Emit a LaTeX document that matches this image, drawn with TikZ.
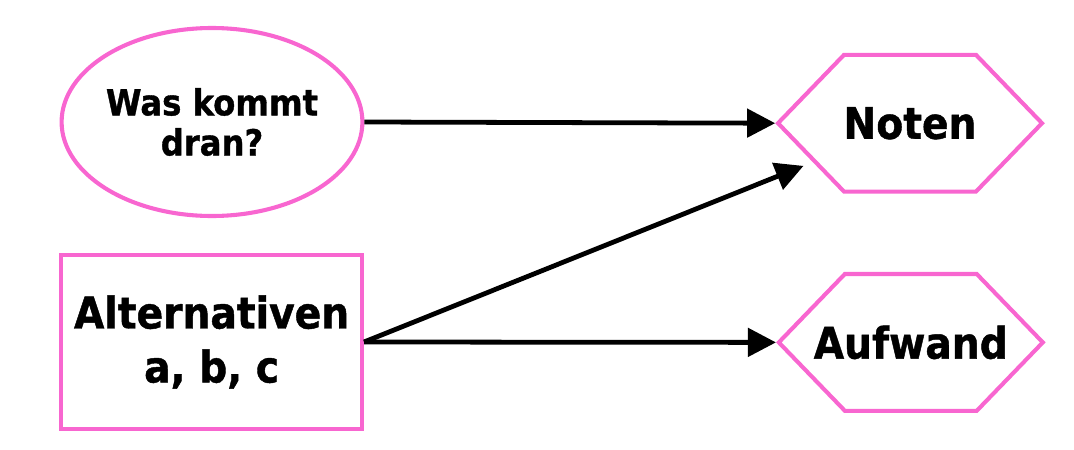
\documentclass[tikz,border=0pt]{standalone}
\usepackage{fontspec}
\setmainfont{DejaVu Sans}[FakeStretch=0.9, BoldFeatures={FakeBold=1}]
\usepackage{tikz}
\usetikzlibrary{arrows.meta, shapes.geometric, shapes.symbols}
\definecolor{pinkline}{RGB}{248,102,208}

\begin{document}
\begin{tikzpicture}[
        every node/.style={font=\bfseries, align=center},
        frame/.style={draw=pinkline, line width=2.9pt},
        goal/.style={frame, signal, signal to=east and west, signal pointer angle=92,
            minimum width=6.6cm, minimum height=3.42cm, inner sep=0pt, font=\bfseries\fontsize{31}{36}\selectfont},
        link/.style={-{Triangle[length=0.7cm, width=0.7cm]}, line width=3.4pt}
    ]
        \useasboundingbox (0, 0) rectangle (26.85, -11.225);

        \node[frame, ellipse, minimum width=7.52cm, minimum height=4.7cm, inner sep=0pt,
            font=\bfseries\fontsize{25.5}{28.5}\selectfont] at (5.3, -3.05) (topic) {Was kommt\\dran?};
        \node[frame, rectangle, minimum width=7.52cm, minimum height=4.35cm, inner sep=0pt,
            font=\bfseries\fontsize{31}{38.4}\selectfont] at (5.29, -8.55) (alt) {Alternativen\\a, b, c};

        \node[goal] at (22.75, -3.08) (noten) {\makebox[0pt]{Noten}};
        \node[goal] at (22.77, -8.56) (aufwand) {\makebox[0pt]{Aufwand}};

        \draw [link] (topic.east) -- (noten.west);
        \draw [link, shorten >=0.25cm] (alt.east) -- (noten);
        \draw [link] (alt.east) -- (aufwand.west);
    \end{tikzpicture}
\end{document}
